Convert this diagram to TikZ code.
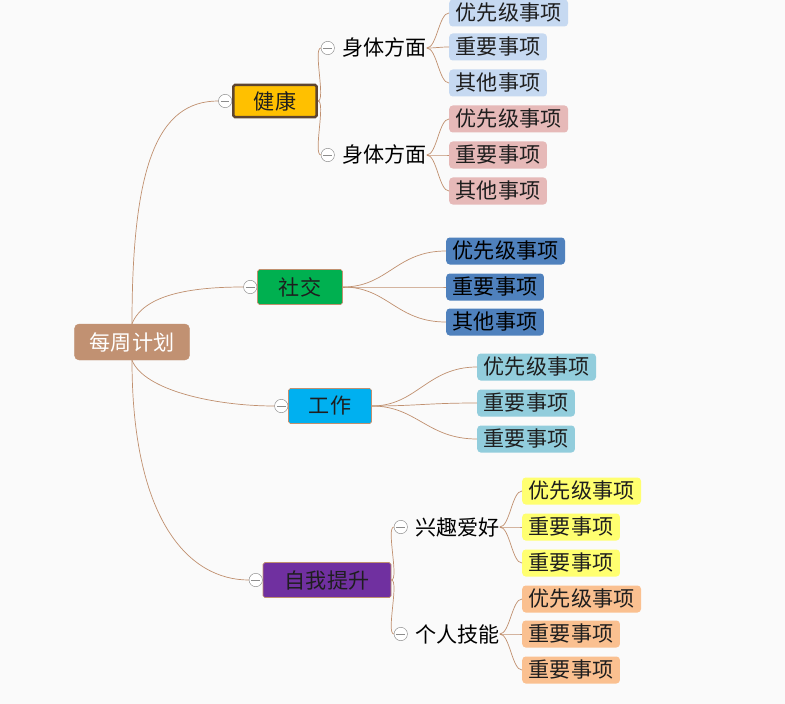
\documentclass[tikz,border=0pt]{standalone}
\usepackage{fontspec}
\setmainfont{Noto Sans CJK SC}
\usetikzlibrary{positioning}
\definecolor{mapbg}{HTML}{FAFAFA}
\definecolor{maplink}{HTML}{C0906F}
\definecolor{maproot}{HTML}{C19172}
\definecolor{mapfold}{HTML}{8C8C8C}
\definecolor{maptext}{HTML}{1E1E1E}
\definecolor{healthfill}{HTML}{FFC000}
\definecolor{healthedge}{HTML}{5E4530}
\definecolor{socialfill}{HTML}{00B050}
\definecolor{workfill}{HTML}{00B0F0}
\definecolor{growthfill}{HTML}{7030A0}
\definecolor{leafblue}{HTML}{C6D9F1}
\definecolor{leafpink}{HTML}{E6B9B8}
\definecolor{leafnavy}{HTML}{4F81BD}
\definecolor{leafteal}{HTML}{92CDDC}
\definecolor{leafyellow}{HTML}{FFFF70}
\definecolor{leaforange}{HTML}{FAC090}

\begin{document}
\begin{tikzpicture}[
        x=0.03cm, y=-0.03cm,
        every node/.style={font=\fontsize{18pt}{20pt}\selectfont},
        rootbox/.style={
          draw=maproot, fill=maproot, text=white,
          rounded corners=4pt,
          minimum width=3.45cm, minimum height=1.08cm,
        },
        topic/.style={
          draw=maplink, line width=0.6pt,
          text=maptext,
          rounded corners=1.5pt,
          minimum height=1.05cm,
        },
        sub/.style={
          anchor=west, inner xsep=0pt, text=black,
        },
        leaf/.style={
          anchor=west, text=maptext,
          rounded corners=3pt,
          inner xsep=0.2cm, inner ysep=0pt,
          minimum height=0.81cm,
        },
        fold/.style={
          circle, draw=mapfold, fill=white,
          minimum size=0.4cm, inner sep=0pt,
          path picture={
            \draw[mapfold] ([xshift=-0.13cm]path picture bounding box.center)
              -- ([xshift=0.13cm]path picture bounding box.center);
          },
        },
        link/.style={
          draw=maplink, line width=0.6pt,
        },
      ]
      \useasboundingbox (0,0) rectangle (785,704);
      \fill[mapbg] (0,0) rectangle (785,704);

      % centre and main topics
      \node[rootbox] (root) at (132,342) {每周计划};
      \node[topic, fill=healthfill, draw=healthedge, line width=2.2pt, minimum width=2.5cm, minimum height=0.97cm] (health) at (275,101) {健康};
      \node[topic, fill=socialfill, minimum width=2.55cm] (social) at (300,287) {社交};
      \node[topic, fill=workfill, minimum width=2.49cm] (work) at (330,406) {工作};
      \node[topic, fill=growthfill, minimum width=3.84cm] (growth) at (327,580) {自我提升};

      \node[fold, left=0pt of health] (healthf) {};
      \node[fold, left=0pt of social] (socialf) {};
      \node[fold, left=0pt of work] (workf) {};
      \node[fold, left=0pt of growth] (growthf) {};

      % sub topics
      \node[sub] (body1) at (342,48) {身体方面};
      \node[sub] (body2) at (342,155) {身体方面};
      \node[sub] (hobby) at (415,527) {兴趣爱好};
      \node[sub] (skill) at (415,634) {个人技能};

      \node[fold, left=0.22cm of body1] (body1f) {};
      \node[fold, left=0.22cm of body2] (body2f) {};
      \node[fold, left=0.22cm of hobby] (hobbyf) {};
      \node[fold, left=0.22cm of skill] (skillf) {};

      % leaves
      \node[leaf, fill=leafblue] (b1a) at (449,13) {优先级事项};
      \node[leaf, fill=leafblue] (b1b) at (449,47) {重要事项};
      \node[leaf, fill=leafblue] (b1c) at (449,83) {其他事项};
      \node[leaf, fill=leafpink] (b2a) at (449,119) {优先级事项};
      \node[leaf, fill=leafpink] (b2b) at (449,155) {重要事项};
      \node[leaf, fill=leafpink] (b2c) at (449,191) {其他事项};
      \node[leaf, fill=leafnavy, text=black] (soa) at (446,251) {优先级事项};
      \node[leaf, fill=leafnavy, text=black] (sob) at (446,287) {重要事项};
      \node[leaf, fill=leafnavy, text=black] (soc) at (446,322) {其他事项};
      \node[leaf, fill=leafteal] (woa) at (477,367) {优先级事项};
      \node[leaf, fill=leafteal] (wob) at (477,403) {重要事项};
      \node[leaf, fill=leafteal] (woc) at (477,439) {重要事项};
      \node[leaf, fill=leafyellow] (hoa) at (522,491) {优先级事项};
      \node[leaf, fill=leafyellow] (hob) at (522,527) {重要事项};
      \node[leaf, fill=leafyellow] (hoc) at (522,563) {重要事项};
      \node[leaf, fill=leaforange] (ska) at (522,599) {优先级事项};
      \node[leaf, fill=leaforange] (skb) at (522,634) {重要事项};
      \node[leaf, fill=leaforange] (skc) at (522,670) {重要事项};

      % branches from the centre
      \draw[link] (root.north) .. controls +(0,-160) and +(-60,0) .. (healthf.west);
      \draw[link] (root.north) .. controls +(12,-30) and +(-50,0) .. (socialf.west);
      \draw[link] (root.south) .. controls +(12,30) and +(-60,0) .. (workf.west);
      \draw[link] (root.south) .. controls +(0,160) and +(-60,0) .. (growthf.west);

      \draw[link] (health.east) .. controls +(8,0) and +(-8,0) .. (body1f.west);
      \draw[link] (health.east) .. controls +(8,0) and +(-8,0) .. (body2f.west);
      \draw[link] (growth.east) .. controls +(8,0) and +(-8,0) .. (hobbyf.west);
      \draw[link] (growth.east) .. controls +(8,0) and +(-8,0) .. (skillf.west);

      % branches to the leaves
      \draw[link] (body1.east) .. controls +(10,0) and +(-10,0) .. (b1a.west);
      \draw[link] (body1.east) .. controls +(10,0) and +(-10,0) .. (b1b.west);
      \draw[link] (body1.east) .. controls +(10,0) and +(-10,0) .. (b1c.west);
      \draw[link] (body2.east) .. controls +(10,0) and +(-10,0) .. (b2a.west);
      \draw[link] (body2.east) .. controls +(10,0) and +(-10,0) .. (b2b.west);
      \draw[link] (body2.east) .. controls +(10,0) and +(-10,0) .. (b2c.west);
      \draw[link] (social.east) .. controls +(45,0) and +(-50,0) .. (soa.west);
      \draw[link] (social.east) .. controls +(45,0) and +(-50,0) .. (sob.west);
      \draw[link] (social.east) .. controls +(45,0) and +(-50,0) .. (soc.west);
      \draw[link] (work.east) .. controls +(45,0) and +(-50,0) .. (woa.west);
      \draw[link] (work.east) .. controls +(45,0) and +(-50,0) .. (wob.west);
      \draw[link] (work.east) .. controls +(45,0) and +(-50,0) .. (woc.west);
      \draw[link] (hobby.east) .. controls +(10,0) and +(-10,0) .. (hoa.west);
      \draw[link] (hobby.east) .. controls +(10,0) and +(-10,0) .. (hob.west);
      \draw[link] (hobby.east) .. controls +(10,0) and +(-10,0) .. (hoc.west);
      \draw[link] (skill.east) .. controls +(10,0) and +(-10,0) .. (ska.west);
      \draw[link] (skill.east) .. controls +(10,0) and +(-10,0) .. (skb.west);
      \draw[link] (skill.east) .. controls +(10,0) and +(-10,0) .. (skc.west);
    \end{tikzpicture}
\end{document}
